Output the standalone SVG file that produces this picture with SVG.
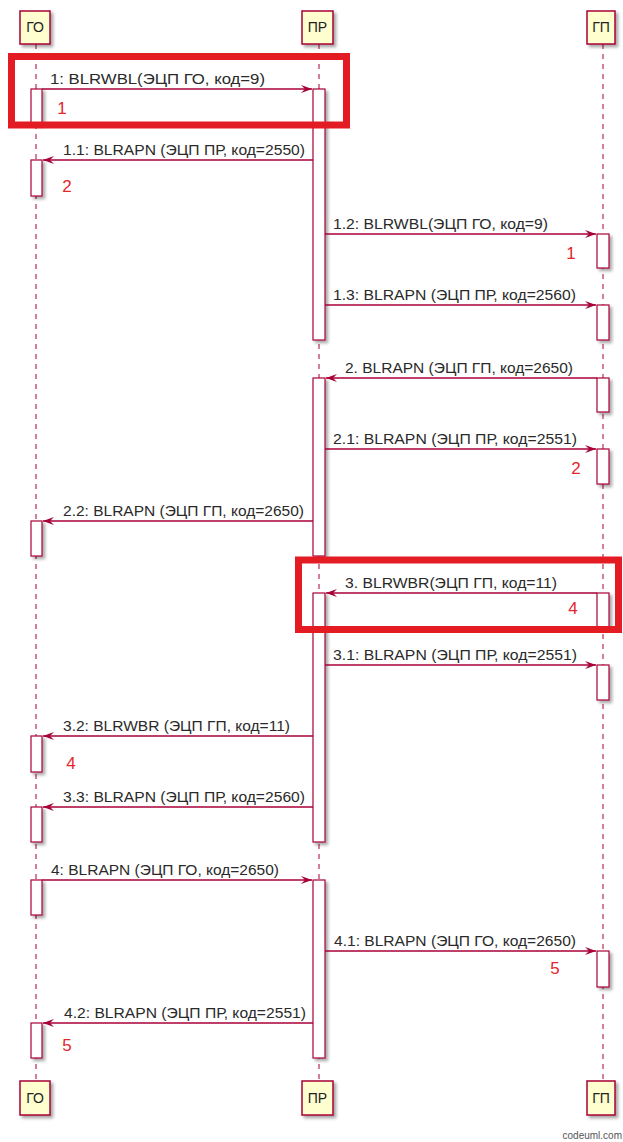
<svg xmlns="http://www.w3.org/2000/svg" width="623" height="1142" viewBox="0 0 623 1142">
<style>
.box{fill:#FEFECE;stroke:#A80036;stroke-width:1.5}
.ptxt{font-family:"Liberation Sans",Arial,sans-serif;font-size:14px;fill:#222;text-anchor:middle}
.life{stroke:#A80036;stroke-width:1;stroke-dasharray:5,5;fill:none}
.act{fill:#FFFFFF;stroke:#A80036;stroke-width:1.2}
.msg{stroke:#A80036;stroke-width:1.3;fill:none}
.mtxt{font-family:"Liberation Sans",Arial,sans-serif;font-size:14px;fill:#2a2a2a}
.num{font-family:"Liberation Sans",Arial,sans-serif;font-size:17px;fill:#E3262B;text-anchor:middle}
.hl{fill:none;stroke:#E31B23;stroke-width:7}
.wm{font-family:"Liberation Sans",Arial,sans-serif;font-size:10px;fill:#555;text-anchor:end}
</style>
<defs>
<filter id="sh" x="-30%" y="-30%" width="180%" height="180%">
<feDropShadow dx="2.5" dy="2.5" stdDeviation="1.5" flood-color="#000" flood-opacity="0.35"/>
</filter>
<marker id="ah" markerWidth="12" markerHeight="10" refX="11" refY="5" orient="auto" markerUnits="userSpaceOnUse">
<polygon points="0,1 11,5 0,9 4,5" fill="#A80036"/>
</marker>
</defs>

<g id="lifelines">
<line class="life" x1="36" y1="44" x2="36" y2="1081"/>
<line class="life" x1="319" y1="44" x2="319" y2="1081"/>
<line class="life" x1="603" y1="44" x2="603" y2="1081"/>
</g>

<g id="node-GO-top"><rect class="box" x="20" y="11" width="30" height="33" filter="url(#sh)"/><text class="ptxt" x="35" y="32">ГО</text></g>
<g id="node-PR-top"><rect class="box" x="302" y="11" width="31" height="33" filter="url(#sh)"/><text class="ptxt" x="317.5" y="32">ПР</text></g>
<g id="node-GP-top"><rect class="box" x="587" y="11" width="28" height="33" filter="url(#sh)"/><text class="ptxt" x="601" y="32">ГП</text></g>

<g id="node-GO-bottom"><rect class="box" x="20" y="1081" width="30" height="34" filter="url(#sh)"/><text class="ptxt" x="35" y="1103">ГО</text></g>
<g id="node-PR-bottom"><rect class="box" x="302" y="1081" width="31" height="34" filter="url(#sh)"/><text class="ptxt" x="317.5" y="1103">ПР</text></g>
<g id="node-GP-bottom"><rect class="box" x="587" y="1081" width="28" height="34" filter="url(#sh)"/><text class="ptxt" x="601" y="1103">ГП</text></g>

<g id="activations" filter="url(#sh)">
<rect class="act" x="31" y="89" width="11" height="35"/>
<rect class="act" x="31" y="160" width="11" height="36"/>
<rect class="act" x="31" y="521" width="11" height="35"/>
<rect class="act" x="31" y="736" width="11" height="36"/>
<rect class="act" x="31" y="807" width="11" height="35"/>
<rect class="act" x="31" y="880" width="11" height="35"/>
<rect class="act" x="31" y="1023" width="11" height="35"/>
<rect class="act" x="313" y="89" width="12" height="251"/>
<rect class="act" x="313" y="378" width="12" height="178"/>
<rect class="act" x="313" y="593" width="12" height="249"/>
<rect class="act" x="313" y="880" width="12" height="178"/>
<rect class="act" x="597" y="234" width="12" height="34"/>
<rect class="act" x="597" y="305" width="12" height="35"/>
<rect class="act" x="597" y="378" width="12" height="34"/>
<rect class="act" x="597" y="449" width="12" height="35"/>
<rect class="act" x="597" y="593" width="12" height="34"/>
<rect class="act" x="597" y="665" width="12" height="35"/>
<rect class="act" x="597" y="951" width="12" height="36"/>
</g>

<g id="connectors">
<line class="msg" x1="42" y1="89" x2="312" y2="89" marker-end="url(#ah)"/>
<text class="mtxt" x="50" y="84" textLength="215" lengthAdjust="spacingAndGlyphs">1: BLRWBL(ЭЦП ГО, код=9)</text>
<line class="msg" x1="313" y1="160" x2="43" y2="160" marker-end="url(#ah)"/>
<text class="mtxt" x="63" y="155" textLength="242" lengthAdjust="spacingAndGlyphs">1.1: BLRAPN (ЭЦП ПР, код=2550)</text>
<line class="msg" x1="325" y1="234" x2="596" y2="234" marker-end="url(#ah)"/>
<text class="mtxt" x="333" y="229" textLength="215" lengthAdjust="spacingAndGlyphs">1.2: BLRWBL(ЭЦП ГО, код=9)</text>
<line class="msg" x1="325" y1="305" x2="596" y2="305" marker-end="url(#ah)"/>
<text class="mtxt" x="333" y="300" textLength="243" lengthAdjust="spacingAndGlyphs">1.3: BLRAPN (ЭЦП ПР, код=2560)</text>
<line class="msg" x1="597" y1="378" x2="326" y2="378" marker-end="url(#ah)"/>
<text class="mtxt" x="345" y="373" textLength="228" lengthAdjust="spacingAndGlyphs">2. BLRAPN (ЭЦП ГП, код=2650)</text>
<line class="msg" x1="325" y1="449" x2="596" y2="449" marker-end="url(#ah)"/>
<text class="mtxt" x="333" y="444" textLength="244" lengthAdjust="spacingAndGlyphs">2.1: BLRAPN (ЭЦП ПР, код=2551)</text>
<line class="msg" x1="313" y1="521" x2="43" y2="521" marker-end="url(#ah)"/>
<text class="mtxt" x="63" y="516" textLength="241" lengthAdjust="spacingAndGlyphs">2.2: BLRAPN (ЭЦП ГП, код=2650)</text>
<line class="msg" x1="597" y1="593" x2="326" y2="593" marker-end="url(#ah)"/>
<text class="mtxt" x="345" y="588" textLength="212" lengthAdjust="spacingAndGlyphs">3. BLRWBR(ЭЦП ГП, код=11)</text>
<line class="msg" x1="325" y1="665" x2="596" y2="665" marker-end="url(#ah)"/>
<text class="mtxt" x="333" y="660" textLength="244" lengthAdjust="spacingAndGlyphs">3.1: BLRAPN (ЭЦП ПР, код=2551)</text>
<line class="msg" x1="313" y1="736" x2="43" y2="736" marker-end="url(#ah)"/>
<text class="mtxt" x="63" y="731" textLength="227" lengthAdjust="spacingAndGlyphs">3.2: BLRWBR (ЭЦП ГП, код=11)</text>
<line class="msg" x1="313" y1="807" x2="43" y2="807" marker-end="url(#ah)"/>
<text class="mtxt" x="63" y="802" textLength="242" lengthAdjust="spacingAndGlyphs">3.3: BLRAPN (ЭЦП ПР, код=2560)</text>
<line class="msg" x1="42" y1="880" x2="312" y2="880" marker-end="url(#ah)"/>
<text class="mtxt" x="51" y="875" textLength="228" lengthAdjust="spacingAndGlyphs">4: BLRAPN (ЭЦП ГО, код=2650)</text>
<line class="msg" x1="325" y1="951" x2="596" y2="951" marker-end="url(#ah)"/>
<text class="mtxt" x="334" y="946" textLength="242" lengthAdjust="spacingAndGlyphs">4.1: BLRAPN (ЭЦП ГО, код=2650)</text>
<line class="msg" x1="313" y1="1023" x2="43" y2="1023" marker-end="url(#ah)"/>
<text class="mtxt" x="64" y="1018" textLength="242" lengthAdjust="spacingAndGlyphs">4.2: BLRAPN (ЭЦП ПР, код=2551)</text>
</g>

<g id="annotations">
<rect class="hl" x="11.5" y="56.5" width="335" height="68.5"/>
<rect class="hl" x="298.5" y="560" width="320" height="69.5"/>
<text class="num" x="62" y="114">1</text>
<text class="num" x="67" y="192">2</text>
<text class="num" x="571" y="259">1</text>
<text class="num" x="576" y="474">2</text>
<text class="num" x="573" y="614">4</text>
<text class="num" x="71" y="769">4</text>
<text class="num" x="555" y="974">5</text>
<text class="num" x="67" y="1051">5</text>
</g>

<text class="wm" x="622" y="1139">codeuml.com</text>
</svg>
